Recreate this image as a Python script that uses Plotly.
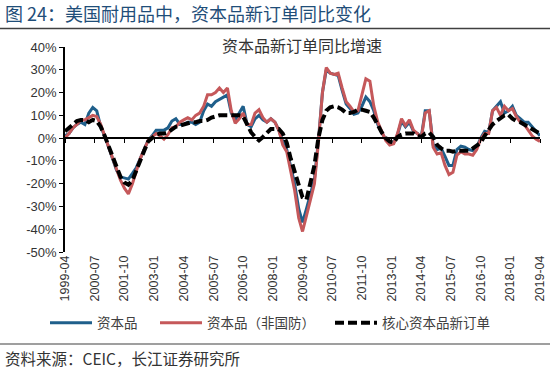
import plotly.graph_objects as go
import pandas as pd

# ---------------- data (YoY %, read every 2 months, 1999-04 .. 2019-04) ----------------
dates = pd.date_range("1999-04-01", "2019-04-01", freq="2MS")

capital_goods = [
    1, 2, 4.5, 6, 7, 6, 11, 13.5, 12, 5,
    1, -4, -8.5, -14, -17, -17.5, -18, -15.5, -13, -9,
    -5, -1, 1, 3.5, 3.5, 3.5, 4.5, 7.5, 8.5, 6,
    6, 7, 7, 6, 7, 12, 15, 14, 16, 17,
    18, 19, 11, 8, 11, 14, 6, 5, 8.5, 10,
    8, 7, 8.5, 7, 3.5, -1.5, -5, -13, -20, -31,
    -37, -31, -25, -18, -1, 20, 30, 28.5, 28, 27.5,
    21, 15, 13, 10.5, 11, 14, 18, 16, 12, 6,
    2.5, -0.5, -2, -2, 1.5, 7.5, 5, 7, 3, 2,
    0.5, 12, 12, -3, -5, -4.5, -8, -12, -12, -5,
    -3.5, -4, -5, -5.5, -4, 0, 3, 2.5, 12, 14,
    16, 11, 12, 14, 10, 8.5, 7, 7, 5, 2.5,
    1,
]

nondefense = [
    0, 2, 4.5, 6, 8, 8, 9, 10, 9.5, 6,
    1, -4, -8.5, -14, -18.5, -22, -24.5, -20, -15, -9,
    -5, -1, 0.5, 2, 1, -0.5, 1.5, 4.5, 5, 7,
    8, 9, 8, 10, 11, 14, 19, 19, 20, 22,
    20, 22, 12, 6.5, 8.5, 11, 6, 6, 11, 12.5,
    9, 7, 8.5, 7, 3.5, -3, -6, -14, -23, -35,
    -41, -34, -27, -20, -2, 20, 31, 28.5, 28, 28.5,
    22, 16, 14, 11.5, 12, 19, 26, 25, 14, 7,
    3, -1, -3, -2.5, 2, 8.5, 5.5, 8, 3.5, 2,
    0, 11, 12, -4, -7, -6.5, -12, -16, -15, -7.5,
    -6, -7, -7, -7.5, -5, -0.5, 2, 2, 12, 13.5,
    10, 14, 12, 13, 9.5, 7, 6, 3.5, 1, -0.5,
    -1.5,
]

core = [
    3, 4.5, 6, 7.5, 8, 8, 7, 8, 7.5, 5,
    1, -3.5, -8, -13, -17, -19.5, -20.5, -18.5, -14, -10,
    -5.5, -1.5, 0, 1.5, 2, 2, 2.5, 4, 5, 5.5,
    6, 6.5, 7, 7, 7.5, 7.5, 8, 9, 9.5, 10,
    10, 10, 10, 10, 10, 9.5, 6, 2.5, 0.5, -1,
    0.5, 2.5, 4, 4, 4, 2, -2, -9, -15, -21,
    -26, -27, -20, -12, 0, 8, 12, 13.5, 14, 13.5,
    12.5, 11, 11, 11.5, 12.5, 12.5, 12, 11.5, 9, 5.5,
    2.5, 0, -1.5, -2, 0.5, 1.5, 2, 2, 2, 1,
    0.5, 2, 2.4, 0.5, -3, -4.5, -5.5, -5.5, -6, -5.5,
    -5.5, -5.5, -5.5, -4.5, -3, -2, 1, 4, 6, 7.5,
    9, 10, 10.3, 8.5, 7.5, 7, 6, 5, 3.5, 2.5,
    2,
]

series_names = ["资本品", "资本品（非国防）", "核心资本品新订单"]

x_tick_labels = [
    "1999-04", "2000-07", "2001-10", "2003-01", "2004-04", "2005-07",
    "2006-10", "2008-01", "2009-04", "2010-07", "2011-10", "2013-01",
    "2014-04", "2015-07", "2016-10", "2018-01", "2019-04",
]
y_tick_values = [-50, -40, -30, -20, -10, 0, 10, 20, 30, 40]
y_tick_labels = ["-50%", "-40%", "-30%", "-20%", "-10%", "0%", "10%", "20%", "30%", "40%"]

header_title = "图 24：美国耐用品中，资本品新订单同比变化"
chart_title = "资本品新订单同比增速"
source_text = "资料来源：CEIC，长江证券研究所"

assert len(dates) == len(capital_goods) == len(nondefense) == len(core)

# ---------------- layout geometry ----------------
W, H = 550, 372
ML, MR, MT, MB = 65, 10, 47, 120
PW, PH = W - ML - MR, H - MT - MB


def px_x(px):
    return (px - ML) / PW


def px_y(py):
    return (H - MB - py) / PH


FONT = "Liberation Sans, Arial, Noto Sans CJK SC, sans-serif"
CJK = "Noto Sans CJK SC, Liberation Sans, sans-serif"

fig = go.Figure()
fig.add_trace(go.Scatter(x=dates, y=capital_goods, name=series_names[0], mode="lines",
                         legend="legend", line=dict(color="#1F5F8B", width=3)))
fig.add_trace(go.Scatter(x=dates, y=nondefense, name=series_names[1], mode="lines",
                         legend="legend2", line=dict(color="#C5585A", width=3)))
fig.add_trace(go.Scatter(x=dates, y=core, name=series_names[2], mode="lines", xaxis="x2",
                         legend="legend3",
                         line=dict(color="#000000", width=4, dash="9px,4px")))

x_range = [x_tick_labels[0] + "-01", x_tick_labels[-1] + "-01"]
y_min, y_max = y_tick_values[0], y_tick_values[-1]

legend_font = dict(family=CJK, size=13.5, color="#404040")


def legend_at(px_left):
    return dict(orientation="h", xref="container", yref="container",
                x=px_left / W, y=1 - 323 / H, xanchor="left", yanchor="middle",
                font=legend_font, bgcolor="rgba(0,0,0,0)", itemwidth=42)


fig.update_layout(
    width=W, height=H, autosize=False,
    margin=dict(l=ML, r=MR, t=MT, b=MB, autoexpand=False),
    paper_bgcolor="white", plot_bgcolor="white",
    font=dict(family=FONT, size=12, color="#404040"),
    showlegend=True,
    legend=legend_at(45),
    legend2=legend_at(155),
    legend3=legend_at(330),
    xaxis=dict(type="date", range=x_range, tickvals=x_tick_labels, ticktext=x_tick_labels,
               tickangle=-90, showgrid=False, showline=False, ticks="", zeroline=False,
               automargin=False, tickfont=dict(size=12.5, color="#333333")),
    xaxis2=dict(type="date", range=x_range, overlaying="x", anchor="free",
                position=(0 - y_min) / (y_max - y_min), side="bottom",
                tickvals=x_tick_labels, showticklabels=False, showgrid=False, zeroline=False,
                showline=True, linecolor="#000000", linewidth=1.5, automargin=False,
                ticks="outside", ticklen=4, tickcolor="#000000", tickwidth=1),
    yaxis=dict(range=[y_min, y_max], tickvals=y_tick_values, ticktext=y_tick_labels,
               showgrid=False, zeroline=False, showline=True, linecolor="#000000", linewidth=1.5,
               ticks="outside", ticklen=4, tickcolor="#000000", tickwidth=1, automargin=False,
               tickfont=dict(size=13, color="#333333")),
    annotations=[
        dict(text=header_title, xref="paper", yref="paper", x=px_x(3), y=px_y(13),
             xanchor="left", yanchor="middle", showarrow=False,
             font=dict(family=CJK, size=18, color="#1F4E79")),
        dict(text=chart_title, xref="paper", yref="paper", x=px_x(302), y=px_y(45),
             xanchor="center", yanchor="middle", showarrow=False,
             font=dict(family=CJK, size=16, color="#333333")),
        dict(text=source_text, xref="paper", yref="paper", x=px_x(3), y=px_y(358),
             xanchor="left", yanchor="middle", showarrow=False,
             font=dict(family=CJK, size=15.5, color="#333333")),
    ],
    shapes=[
        dict(type="line", xref="paper", yref="paper", x0=px_x(0), x1=px_x(W),
             y0=px_y(28.5), y1=px_y(28.5), line=dict(color="#404040", width=1.5)),
        dict(type="line", xref="paper", yref="paper", x0=px_x(0), x1=px_x(W),
             y0=px_y(344), y1=px_y(344), line=dict(color="#404040", width=1.2)),
    ],
)

fig.write_html("out.html", config={"displayModeBar": False},
               post_script="document.body.style.margin='0px';")
